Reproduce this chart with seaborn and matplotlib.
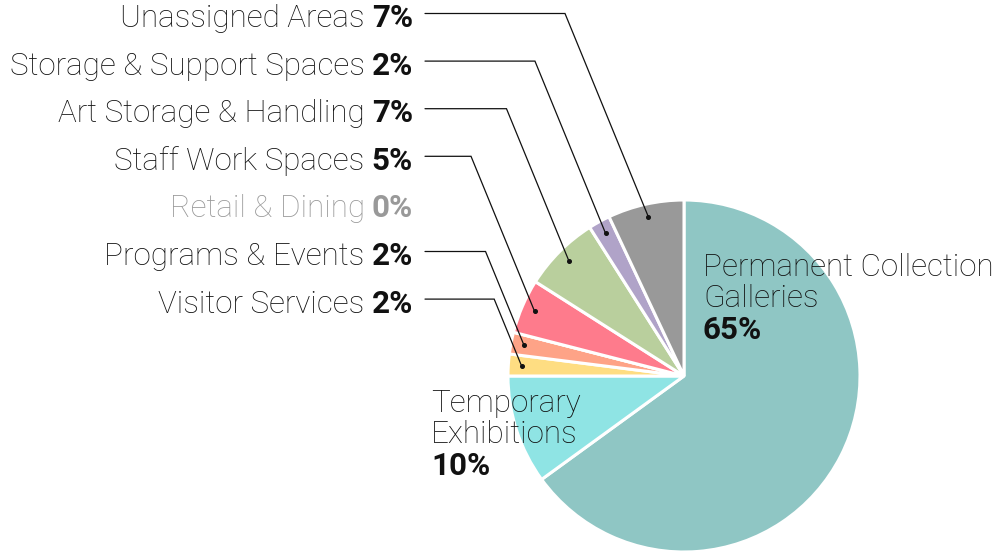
import textwrap
import numpy as np
import matplotlib
matplotlib.use("Agg")
import matplotlib.pyplot as plt
import seaborn as sns

# ---- data -----------------------------------------------------------------
categories = [
    "Permanent Collection Galleries",
    "Temporary Exhibitions",
    "Visitor Services",
    "Programs & Events",
    "Retail & Dining",
    "Staff Work Spaces",
    "Art Storage & Handling",
    "Storage & Support Spaces",
    "Unassigned Areas",
]
shares = [65, 10, 2, 2, 0, 5, 7, 2, 7]
colors = ["#8fc6c4", "#8fe4e4", "#fedd82", "#fea387", "#c8c8c8",
          "#fe7b8c", "#b9cf9d", "#b0a3c8", "#999999"]
inside = ["Permanent Collection Galleries", "Temporary Exhibitions"]

# ---- style ----------------------------------------------------------------
sns.set_theme(style="white")
plt.rcParams["font.family"] = ["Roboto", "DejaVu Sans"]

W, H = 999, 555
fig = plt.figure(figsize=(W / 100, H / 100), dpi=100)
ax = fig.add_axes([0, 0, 1, 1])

cx, cy, R = 684, H - 376, 176
palette = sns.color_palette(colors)
wedges, _ = ax.pie(shares, colors=palette, startangle=90, counterclock=False,
                   center=(cx, cy), radius=R,
                   wedgeprops=dict(edgecolor="white", linewidth=2.2))
ax.set_xlim(0, W)
ax.set_ylim(0, H)
ax.set_aspect("auto")
ax.axis("off")

fs = 22.6
renderer = fig.canvas.get_renderer()

# ---- outside labels (left column) -----------------------------------------
outside = [c for c in categories if c not in inside][::-1]
x_right = 413
base0, step = 27, 47.6
slope = 0.41
for i, name in enumerate(outside):
    k = categories.index(name)
    v = shares[k]
    col = "#999999" if v == 0 else "#111111"
    yb = H - (base0 + i * step)
    t = ax.text(x_right, yb, f"{v:.0f}%", ha="right", va="baseline",
                fontsize=fs, fontweight="bold", color=col)
    bb = t.get_window_extent(renderer)
    ax.text(bb.x0 - 7, yb, name, ha="right", va="baseline",
            fontsize=fs, fontweight="light", color=col)
    if v == 0:
        continue
    w = wedges[k]
    mid = np.deg2rad((w.theta1 + w.theta2) / 2)
    r = 0.925 * R
    dx, dy = cx + r * np.cos(mid), cy + r * np.sin(mid)
    ly = yb + 13.5
    kx = dx - slope * (ly - dy)
    ax.plot([x_right + 12, kx, dx], [ly, ly, dy], color="#111111",
            lw=0.9, solid_joinstyle="miter")
    ax.plot([dx], [dy], "o", color="#111111", ms=2.6)

# ---- inside labels --------------------------------------------------------
inside_pos = {inside[0]: (703, 276), inside[1]: (431, 412)}
lh = 31.3
for name in inside:
    k = categories.index(name)
    x0, yb0 = inside_pos[name]
    lines = textwrap.wrap(name, 20)
    for j, ln in enumerate(lines):
        ax.text(x0, H - (yb0 + j * lh), ln, ha="left", va="baseline",
                fontsize=fs, fontweight="light", color="#111111")
    ax.text(x0, H - (yb0 + len(lines) * lh), f"{shares[k]:.0f}%", ha="left",
            va="baseline", fontsize=fs, fontweight="bold", color="#111111")

fig.savefig("out.png", dpi=100, facecolor="white")
